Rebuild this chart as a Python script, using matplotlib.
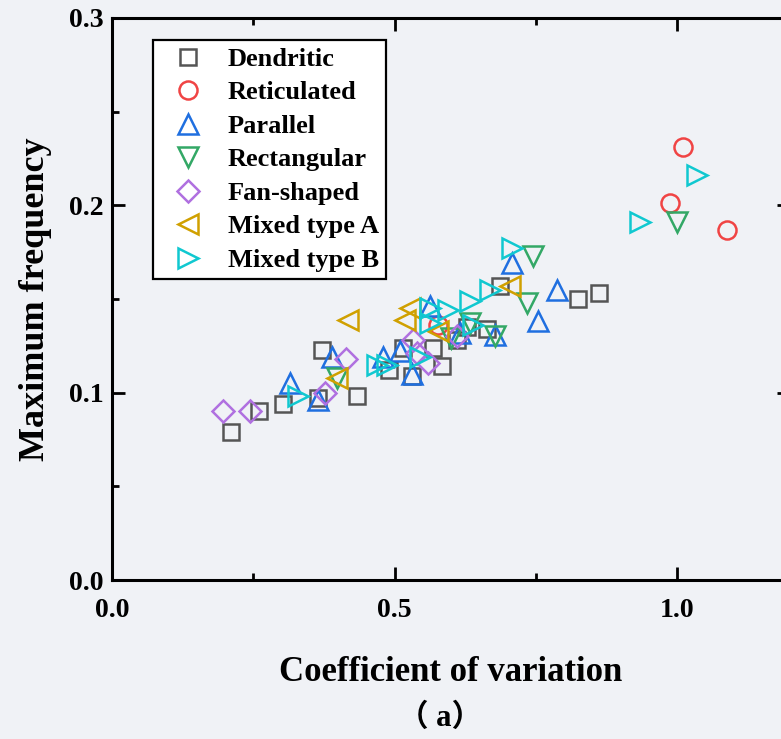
import matplotlib
matplotlib.use("Agg")
import matplotlib.pyplot as plt
from matplotlib.ticker import MultipleLocator

plt.rcParams['font.family'] = ['Liberation Serif', 'Noto Sans CJK SC']
plt.rcParams['font.weight'] = 'bold'

# coefficient of variation / maximum frequency for each drainage pattern
dendritic_x = [0.211, 0.260, 0.303, 0.365, 0.372, 0.434, 0.490, 0.515, 0.531,
               0.568, 0.584, 0.611, 0.628, 0.664, 0.687, 0.825, 0.862]
dendritic_y = [0.079, 0.090, 0.094, 0.097, 0.123, 0.098, 0.112, 0.124, 0.109,
               0.124, 0.114, 0.128, 0.135, 0.134, 0.157, 0.150, 0.153]

reticulated_x = [0.577, 0.988, 1.011, 1.088]
reticulated_y = [0.136, 0.201, 0.231, 0.187]

parallel_x = [0.315, 0.365, 0.389, 0.480, 0.509, 0.531, 0.563, 0.616, 0.678,
              0.708, 0.754, 0.788]
parallel_y = [0.105, 0.096, 0.119, 0.119, 0.122, 0.110, 0.146, 0.132, 0.131,
              0.169, 0.138, 0.155]

rectangular_x = [0.398, 0.600, 0.634, 0.678, 0.735, 0.745, 1.000]
rectangular_y = [0.108, 0.129, 0.137, 0.130, 0.148, 0.173, 0.191]

fan_x = [0.196, 0.244, 0.377, 0.414, 0.533, 0.540, 0.559, 0.611]
fan_y = [0.090, 0.090, 0.100, 0.118, 0.128, 0.121, 0.116, 0.130]

mixed_a_x = [0.398, 0.418, 0.519, 0.527, 0.577, 0.704]
mixed_a_y = [0.108, 0.139, 0.139, 0.145, 0.133, 0.157]

mixed_b_x = [0.329, 0.469, 0.487, 0.545, 0.563, 0.563, 0.595, 0.634, 0.639,
             0.669, 0.708, 0.935, 1.035]
mixed_b_y = [0.098, 0.115, 0.115, 0.119, 0.145, 0.137, 0.144, 0.149, 0.136,
             0.155, 0.177, 0.191, 0.216]

series = [
    ("Dendritic", dendritic_x, dendritic_y, 's', '#555555', 12),
    ("Reticulated", reticulated_x, reticulated_y, 'o', '#f04444', 13),
    ("Parallel", parallel_x, parallel_y, '^', '#1f6fe0', 14),
    ("Rectangular", rectangular_x, rectangular_y, 'v', '#33a866', 14),
    ("Fan-shaped", fan_x, fan_y, 'D', '#b070e0', 11),
    ("Mixed type A", mixed_a_x, mixed_a_y, '<', '#d0a000', 14),
    ("Mixed type B", mixed_b_x, mixed_b_y, '>', '#10c8d0', 14),
]

bg = '#f0f2f6'
fig = plt.figure(figsize=(7.81, 7.39), dpi=100, facecolor=bg)
# right spine sits just past the figure edge
ax = fig.add_axes([112 / 781, 1 - 580 / 739, 678 / 781, 562 / 739])
ax.set_facecolor(bg)

for name, xs, ys, mk, col, ms in series:
    ax.plot(xs, ys, linestyle='none', marker=mk, markersize=ms,
            markerfacecolor='none', markeredgecolor=col, markeredgewidth=1.8,
            label=name)

ax.set_xlim(0, 1.2)
ax.set_ylim(0, 0.3)
ax.xaxis.set_major_locator(MultipleLocator(0.5))
ax.xaxis.set_minor_locator(MultipleLocator(0.25))
ax.yaxis.set_major_locator(MultipleLocator(0.1))
ax.yaxis.set_minor_locator(MultipleLocator(0.05))
ax.xaxis.set_major_formatter(plt.FormatStrFormatter('%.1f'))
ax.yaxis.set_major_formatter(plt.FormatStrFormatter('%.1f'))

for s in ax.spines.values():
    s.set_linewidth(2.2)
ax.tick_params(which='both', direction='in', top=True, right=True, width=2.0)
ax.tick_params(which='major', length=9.5, labelsize=20)
ax.tick_params(which='minor', length=5)
ax.tick_params(axis='x', which='major', pad=13)
ax.tick_params(axis='y', which='major', pad=6)

ax.set_xlabel('Coefficient of variation', fontsize=25, fontweight='bold', labelpad=24)
ax.set_ylabel('Maximum frequency', fontsize=26, fontweight='bold', labelpad=12)

leg = ax.legend(loc='upper left', bbox_to_anchor=(41 / 678, 1 - 22 / 562),
                bbox_transform=ax.transAxes, borderaxespad=0,
                prop={'weight': 'bold', 'size': 19},
                frameon=True, fancybox=False, framealpha=1, edgecolor='black',
                handlelength=2.1, handletextpad=0.45, labelspacing=0.38,
                borderpad=0.28, numpoints=1)
leg.get_frame().set_linewidth(1.6)
leg.get_frame().set_facecolor('white')

fig.text(440 / 781, 1 - 718 / 739, '（ a）', ha='center', va='center',
         fontsize=22, fontweight='bold')

fig.savefig('out.png', dpi=100, facecolor=bg)
